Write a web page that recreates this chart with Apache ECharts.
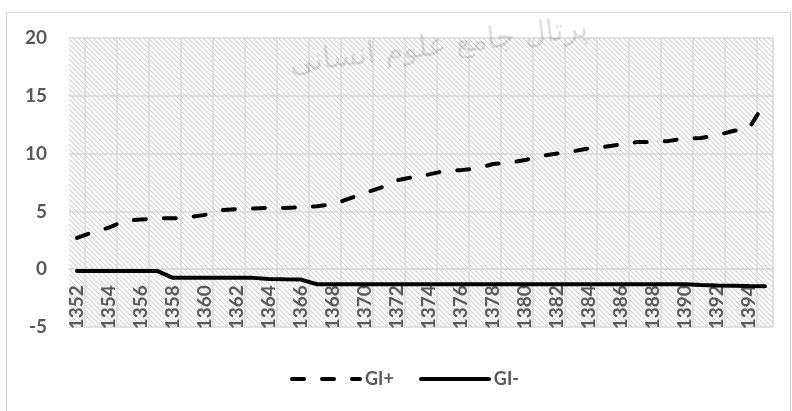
<!DOCTYPE html>
<html>
<head>
<meta charset="utf-8">
<script src="https://cdn.jsdelivr.net/npm/echarts@6/dist/echarts.min.js"></script>
<style>
html,body{margin:0;padding:0;background:#fff;}
#chart{width:792px;height:411px;}
</style>
</head>
<body>
<div id="chart"></div>
<script>
const years = ['1352','1353','1354','1355','1356','1357','1358','1359','1360','1361','1362','1363','1364','1365','1366','1367','1368','1369','1370','1371','1372','1373','1374','1375','1376','1377','1378','1379','1380','1381','1382','1383','1384','1385','1386','1387','1388','1389','1390','1391','1392','1393','1394','1395'];
const giPlus = [2.7,3.2,3.6,4.2,4.3,4.4,4.4,4.5,4.7,5.1,5.2,5.25,5.3,5.3,5.35,5.45,5.6,6.1,6.6,7.05,7.7,7.95,8.2,8.5,8.57,8.7,9.1,9.2,9.44,9.8,10.0,10.2,10.45,10.6,10.8,11.0,11.0,11.1,11.3,11.35,11.6,11.95,12.2,14.4];
const giMinus = [-0.15,-0.15,-0.15,-0.15,-0.15,-0.15,-0.75,-0.75,-0.75,-0.75,-0.75,-0.75,-0.85,-0.88,-0.9,-1.3,-1.3,-1.3,-1.3,-1.3,-1.3,-1.3,-1.3,-1.3,-1.3,-1.3,-1.3,-1.3,-1.3,-1.3,-1.3,-1.3,-1.3,-1.3,-1.3,-1.3,-1.3,-1.3,-1.3,-1.36,-1.4,-1.43,-1.46,-1.48];
const yTicks = {min: -5, max: 20, step: 5};
const seriesNames = ['GI+', 'GI-'];

// hatch pattern for plot background
const pc = document.createElement('canvas');
pc.width = 5; pc.height = 5;
const ctx = pc.getContext('2d');
ctx.fillStyle = '#ffffff';
ctx.fillRect(0,0,5,5);
ctx.strokeStyle = '#d4d4d4';
ctx.lineWidth = 1.2;
for (let k = -1; k <= 1; k++) {
  ctx.beginPath();
  ctx.moveTo(-1, k*5 - 1);
  ctx.lineTo(6, k*5 + 6);
  ctx.stroke();
}

const labelColor = '#595959';
const fontFam = 'Lato, "Liberation Sans", sans-serif';
const gridColor = '#d9d9d9';
const plotTop = 38, plotBottom = 84, chartH = 411;
const plotH = chartH - plotTop - plotBottom;
// move the category axis up so it sits on y = 0
const zeroOffset = -plotH * (0 - yTicks.min) / (yTicks.max - yTicks.min);

const dashStyle = {color: '#000', width: 4, type: [12, 18], cap: 'round'};
const solidStyle = {color: '#000', width: 4, cap: 'round'};
const legendY = 379;

const chart = echarts.init(document.getElementById('chart'), null, {renderer: 'canvas'});
chart.setOption({
  animation: false,
  backgroundColor: '#ffffff',
  grid: {
    show: true,
    left: 69, right: 19, top: plotTop, bottom: plotBottom,
    backgroundColor: {image: pc, repeat: 'repeat'},
    borderWidth: 0
  },
  legend: {
    data: seriesNames,
    icon: 'none',
    left: 290,
    top: legendY - 9,
    padding: 0,
    itemWidth: 70,
    itemHeight: 18,
    itemGap: 25,
    textStyle: {color: labelColor, fontSize: 18, fontWeight: 'bold', fontFamily: fontFam}
  },
  xAxis: {
    type: 'category',
    data: years,
    boundaryGap: true,
    offset: zeroOffset,
    axisLine: {show: true, onZero: false, lineStyle: {color: gridColor, width: 1.5}},
    axisTick: {show: false},
    axisLabel: {
      interval: 1,
      rotate: 90,
      margin: 16,
      color: labelColor,
      fontSize: 19,
      fontWeight: 'bold',
      fontFamily: fontFam
    },
    splitLine: {
      show: true,
      interval: function (index) { return index % 2 === 1; },
      lineStyle: {color: gridColor, width: 1.5}
    }
  },
  yAxis: {
    type: 'value',
    min: yTicks.min,
    max: yTicks.max,
    interval: yTicks.step,
    axisLine: {show: false},
    axisTick: {show: false},
    axisLabel: {
      margin: 22,
      color: labelColor,
      fontSize: 19,
      fontWeight: 'bold',
      fontFamily: fontFam
    },
    splitLine: {show: true, lineStyle: {color: gridColor, width: 1.5}}
  },
  graphic: [
    {
      type: 'rect',
      left: 4, top: 10,
      shape: {width: 784, height: 420},
      style: {fill: 'none', stroke: '#d9d9d9', lineWidth: 1.2},
      silent: true,
      z: -10
    },
    {
      type: 'text',
      left: 288, top: 14,
      rotation: 0.12,
      style: {
        text: 'پرتال جامع علوم انسانی',
        fill: 'rgba(0,0,0,0.13)',
        font: '30px "DejaVu Sans", sans-serif'
      },
      silent: true,
      z: 100
    },
    {
      type: 'line',
      shape: {x1: 292, y1: legendY, x2: 360, y2: legendY},
      style: {stroke: '#000', lineWidth: 4, lineDash: [12, 18], lineCap: 'round'},
      silent: true
    },
    {
      type: 'line',
      shape: {x1: 421, y1: legendY, x2: 489, y2: legendY},
      style: {stroke: '#000', lineWidth: 4, lineCap: 'round'},
      silent: true
    }
  ],
  series: [
    {
      name: seriesNames[0],
      type: 'line',
      data: giPlus,
      showSymbol: false,
      symbol: 'none',
      lineStyle: dashStyle,
      itemStyle: {color: '#000'}
    },
    {
      name: seriesNames[1],
      type: 'line',
      data: giMinus,
      showSymbol: false,
      symbol: 'none',
      lineStyle: solidStyle,
      itemStyle: {color: '#000'}
    }
  ]
});
</script>
</body>
</html>
